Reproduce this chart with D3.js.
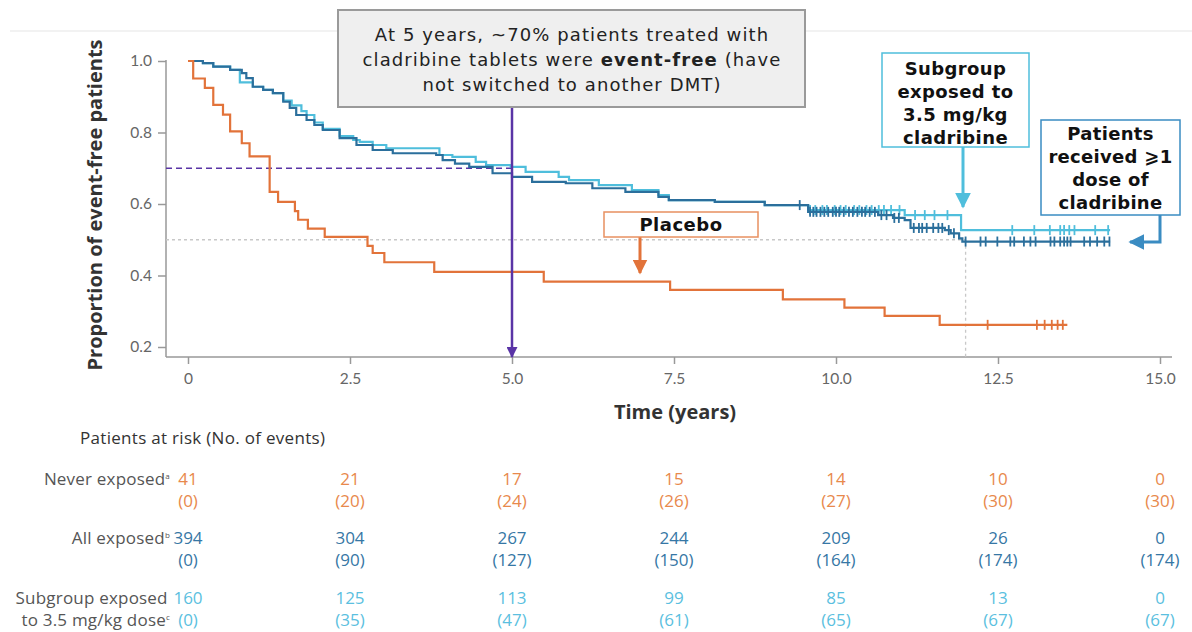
<html>
<head>
<meta charset="utf-8">
<title>Event-free patients</title>
<style>
  body { margin: 0; background: #fff; }
  .tick text { font-family: Lato, sans-serif; font-size: 15.5px; fill: #666; }
  .tbl { font-family: "Open Sans", sans-serif; font-size: 17px; }
  .tbl.lab { font-size: 17px; }
  .box { font-family: "DejaVu Sans", sans-serif; }
</style>
</head>
<body>
<script src="https://d3js.org/d3.v7.min.js"></script>
<script>

// placebo / never exposed (time in years, proportion event-free)
var placeboTimes = [0, 0.08, 0.26, 0.39, 0.54, 0.65, 0.83, 0.95, 1.26, 1.39, 1.65, 1.70, 1.85, 2.11, 2.77, 2.85, 3.03, 3.80, 5.49, 7.44, 9.18, 10.13, 10.75, 11.60, 13.57];
var placeboSurv  = [1.0, 0.951, 0.925, 0.877, 0.850, 0.803, 0.770, 0.733, 0.634, 0.606, 0.580, 0.556, 0.531, 0.508, 0.483, 0.463, 0.437, 0.410, 0.383, 0.360, 0.333, 0.310, 0.287, 0.262, 0.262];
var placeboCensor = [12.34, 13.10, 13.22, 13.33, 13.42, 13.50];

// all exposed (>=1 dose)
var allTimes = [0, 0.23, 0.39, 0.65, 0.83, 0.90, 1.0, 1.16, 1.31, 1.47, 1.57, 1.67, 1.83, 1.95, 2.08, 2.34, 2.60, 2.85, 3.16, 3.83, 3.93, 4.12, 4.34, 4.70, 5.0, 5.31, 5.83, 6.24, 6.75, 7.26, 7.42, 8.13, 8.90, 9.57, 10.65, 10.88, 11.06, 11.15, 11.68, 11.77, 11.90, 11.95, 14.23];
var allSurv  = [1.0, 0.994, 0.984, 0.975, 0.966, 0.952, 0.928, 0.919, 0.910, 0.886, 0.869, 0.849, 0.835, 0.821, 0.807, 0.784, 0.765, 0.751, 0.742, 0.737, 0.723, 0.713, 0.704, 0.686, 0.676, 0.662, 0.658, 0.644, 0.634, 0.620, 0.611, 0.606, 0.597, 0.578, 0.569, 0.561, 0.555, 0.533, 0.527, 0.518, 0.504, 0.495, 0.495];
var allCensor = [9.44, 9.60, 9.65, 9.70, 9.76, 9.82, 9.88, 9.95, 10.0, 10.05, 10.12, 10.20, 10.26, 10.33, 10.40, 10.45, 10.52, 10.60, 10.70, 10.78, 10.90, 10.97, 11.20, 11.28, 11.33, 11.40, 11.50, 11.58, 11.64, 11.74, 11.82, 12.0, 12.23, 12.31, 12.49, 12.69, 12.75, 12.90, 13.0, 13.08, 13.31, 13.37, 13.46, 13.52, 13.57, 13.62, 13.83, 13.92, 14.03, 14.14, 14.22];

// subgroup exposed to 3.5 mg/kg
var subTimes = [0, 0.23, 0.39, 0.65, 0.80, 1.0, 1.16, 1.31, 1.47, 1.60, 1.75, 1.83, 1.95, 2.08, 2.34, 2.55, 2.65, 2.85, 3.06, 3.88, 4.08, 4.44, 4.60, 4.98, 5.21, 5.72, 5.88, 6.34, 6.85, 7.26, 7.42, 8.13, 8.90, 9.57, 11.06, 11.93, 14.23];
var subSurv  = [1.0, 0.994, 0.984, 0.975, 0.940, 0.928, 0.919, 0.910, 0.889, 0.876, 0.860, 0.849, 0.828, 0.810, 0.790, 0.779, 0.774, 0.765, 0.756, 0.737, 0.732, 0.718, 0.709, 0.704, 0.690, 0.676, 0.667, 0.653, 0.639, 0.625, 0.611, 0.606, 0.597, 0.583, 0.569, 0.527, 0.527];
var subCensor = [9.60, 9.68, 9.79, 9.86, 9.98, 10.07, 10.15, 10.28, 10.36, 10.47, 10.55, 10.66, 10.74, 10.85, 10.98, 11.22, 11.37, 11.52, 11.72, 12.72, 13.06, 13.30, 13.46, 13.52, 13.60, 13.68, 14.0, 14.2];

// axis ticks
var xTicks = [0, 2.5, 5, 7.5, 10, 12.5, 15];
var yTicks = [0.2, 0.4, 0.6, 0.8, 1.0];

// patients at risk table
var riskTimes = [0, 2.5, 5, 7.5, 10, 12.5, 15];
var neverAtRisk = [41, 21, 17, 15, 14, 10, 0];
var neverEvents = [0, 20, 24, 26, 27, 30, 30];
var allAtRisk = [394, 304, 267, 244, 209, 26, 0];
var allEvents = [0, 90, 127, 150, 164, 174, 174];
var subAtRisk = [160, 125, 113, 99, 85, 13, 0];
var subEvents = [0, 35, 47, 61, 65, 67, 67];

var cOrange = "#e2733a", cDark = "#2b6f9c", cLight = "#4fbedc", cPurple = "#5a34a6", cMid = "#3a8cc2";

var svg = d3.select("body").append("svg")
    .attr("width", 1192)
    .attr("height", 632);

var x = d3.scaleLinear().domain([0, 15]).range([188, 1160]);
var y = d3.scaleLinear().domain([0.2, 1]).range([347, 61]);

// arrow heads
var defs = svg.append("defs");
function marker(id, color, size) {
  defs.append("marker")
    .attr("id", id)
    .attr("viewBox", "0 0 10 10")
    .attr("refX", 9).attr("refY", 5)
    .attr("markerWidth", size).attr("markerHeight", size)
    .attr("markerUnits", "userSpaceOnUse")
    .attr("orient", "auto")
    .append("path").attr("d", "M0,0 L10,5 L0,10 z").attr("fill", color);
}
marker("arPurple", cPurple, 11);
marker("arOrange", cOrange, 15);
marker("arLight", cLight, 16);
marker("arMid", cMid, 16);

// faint top rule
svg.append("line").attr("x1", 10).attr("x2", 1192).attr("y1", 31).attr("y2", 31)
  .attr("stroke", "#eeeeee").attr("stroke-width", 1.5);

// axes
svg.append("g").attr("transform", "translate(166,0)")
  .call(d3.axisLeft(y).tickValues(yTicks).tickSize(8).tickPadding(6).tickFormat(d3.format(".1f")));
svg.append("g").attr("transform", "translate(0,357)")
  .call(d3.axisBottom(x).tickValues(xTicks).tickSize(7).tickPadding(9)
    .tickFormat(function(d) { return d === 0 ? "0" : d3.format(".1f")(d); }));
svg.selectAll(".domain").remove();
svg.selectAll(".tick line").attr("stroke", "#999").attr("stroke-width", 1.5);
svg.append("line").attr("x1", 166).attr("x2", 166).attr("y1", y(1) - 1).attr("y2", 357)
  .attr("stroke", "#999").attr("stroke-width", 1.5);
svg.append("line").attr("x1", 166).attr("x2", 1172).attr("y1", 357).attr("y2", 357)
  .attr("stroke", "#999").attr("stroke-width", 1.5);

// axis titles
svg.append("text")
  .attr("transform", "translate(102,205) rotate(-90)")
  .attr("text-anchor", "middle")
  .style("font-family", "'Open Sans', sans-serif").style("font-size", "20px").style("font-weight", "bold")
  .attr("fill", "#333")
  .text("Proportion of event-free patients");
svg.append("text")
  .attr("x", 675).attr("y", 419)
  .attr("text-anchor", "middle")
  .style("font-family", "'Open Sans', sans-serif").style("font-size", "20px").style("font-weight", "bold")
  .attr("fill", "#333")
  .text("Time (years)");

// reference lines
svg.append("line").attr("x1", 166).attr("x2", x(12)).attr("y1", y(0.5)).attr("y2", y(0.5))
  .attr("stroke", "#c8c8c8").attr("stroke-width", 1.3).attr("stroke-dasharray", "3,3");
svg.append("line").attr("x1", x(12)).attr("x2", x(12)).attr("y1", y(0.5)).attr("y2", 357)
  .attr("stroke", "#c8c8c8").attr("stroke-width", 1.3).attr("stroke-dasharray", "3,3");
svg.append("line").attr("x1", 166).attr("x2", x(5)).attr("y1", y(0.7)).attr("y2", y(0.7))
  .attr("stroke", cPurple).attr("stroke-width", 1.3).attr("stroke-dasharray", "6,4");

// KM curves
var line = d3.line()
  .x(function(d) { return x(d[0]); })
  .y(function(d) { return y(d[1]); })
  .curve(d3.curveStepAfter);

function survAt(times, surv, t) {
  var i = d3.bisectRight(times, t) - 1;
  return surv[Math.max(0, i)];
}

function drawCurve(times, surv, censor, color) {
  svg.append("path")
    .datum(d3.zip(times, surv))
    .attr("fill", "none")
    .attr("stroke", color)
    .attr("stroke-width", 2.2)
    .attr("d", line);
  svg.append("g").selectAll("line")
    .data(censor)
    .enter().append("line")
    .attr("x1", function(d) { return x(d); })
    .attr("x2", function(d) { return x(d); })
    .attr("y1", function(d) { return y(survAt(times, surv, d)) - 5; })
    .attr("y2", function(d) { return y(survAt(times, surv, d)) + 5; })
    .attr("stroke", color)
    .attr("stroke-width", 1.8);
}
drawCurve(subTimes, subSurv, subCensor, cLight);
drawCurve(allTimes, allSurv, allCensor, cDark);
drawCurve(placeboTimes, placeboSurv, placeboCensor, cOrange);

// purple arrow at 5 years
svg.append("line").attr("x1", x(5)).attr("x2", x(5)).attr("y1", 107).attr("y2", 357)
  .attr("stroke", cPurple).attr("stroke-width", 2.5).attr("marker-end", "url(#arPurple)");

// main callout box
svg.append("rect").attr("x", 338).attr("y", 10).attr("width", 467).attr("height", 97)
  .attr("fill", "#efefef").attr("stroke", "#9a9a9a").attr("stroke-width", 2);
var callout = svg.append("text").attr("class", "box").attr("text-anchor", "middle")
  .style("font-size", "18px").style("letter-spacing", "1.1px").attr("fill", "#222");
callout.append("tspan").attr("x", 572).attr("y", 41).text("At 5 years, ~70% patients treated with");
var l2 = callout.append("tspan").attr("x", 572).attr("y", 66);
l2.append("tspan").text("cladribine tablets were ");
l2.append("tspan").style("font-weight", "bold").text("event-free");
l2.append("tspan").text(" (have");
callout.append("tspan").attr("x", 572).attr("y", 91).text("not switched to another DMT)");

// placebo label
svg.append("line").attr("x1", 640).attr("x2", 640).attr("y1", 237).attr("y2", 273)
  .attr("stroke", cOrange).attr("stroke-width", 3).attr("marker-end", "url(#arOrange)");
svg.append("rect").attr("x", 604).attr("y", 212).attr("width", 154).attr("height", 25)
  .attr("fill", "#fff").attr("stroke", "#e89060").attr("stroke-width", 1.5);
svg.append("text").attr("class", "box").attr("x", 681).attr("y", 231)
  .attr("text-anchor", "middle").style("font-size", "18px").style("font-weight", "bold")
  .style("letter-spacing", "0.5px").attr("fill", "#111").text("Placebo");

// subgroup label
svg.append("line").attr("x1", 963).attr("x2", 963).attr("y1", 147).attr("y2", 207)
  .attr("stroke", cLight).attr("stroke-width", 3).attr("marker-end", "url(#arLight)");
svg.append("rect").attr("x", 882).attr("y", 53).attr("width", 147).attr("height", 94)
  .attr("fill", "#fff").attr("stroke", cLight).attr("stroke-width", 1.5);
var subLab = svg.append("text").attr("class", "box").attr("text-anchor", "middle")
  .style("font-size", "18px").style("font-weight", "bold").style("letter-spacing", "0.4px").attr("fill", "#111");
["Subgroup", "exposed to", "3.5 mg/kg", "cladribine"].forEach(function(s, i) {
  subLab.append("tspan").attr("x", 955.5).attr("y", 75 + i * 23).text(s);
});

// all exposed label
svg.append("path").attr("d", "M1160,215 L1160,242 L1130,242")
  .attr("fill", "none").attr("stroke", cMid).attr("stroke-width", 3).attr("marker-end", "url(#arMid)");
svg.append("rect").attr("x", 1041).attr("y", 120).attr("width", 139).attr("height", 95)
  .attr("fill", "#fff").attr("stroke", cMid).attr("stroke-width", 1.5);
var allLab = svg.append("text").attr("class", "box").attr("text-anchor", "middle")
  .style("font-size", "18px").style("font-weight", "bold").style("letter-spacing", "0.3px").attr("fill", "#111");
["Patients", "received \u2A7E1", "dose of", "cladribine"].forEach(function(s, i) {
  allLab.append("tspan").attr("x", 1110.5).attr("y", 140 + i * 23).text(s);
});

// patients at risk table
svg.append("text").attr("class", "tbl lab").attr("x", 80).attr("y", 444)
  .attr("fill", "#333").style("letter-spacing", "0.3px").text("Patients at risk (No. of events)");

var rows = [
  { label: ["Never exposed"], sup: "a", atRisk: neverAtRisk, events: neverEvents, color: "#e8894c", y: 485 },
  { label: ["All exposed"], sup: "b", atRisk: allAtRisk, events: allEvents, color: "#3677a5", y: 544 },
  { label: ["Subgroup exposed", "to 3.5 mg/kg dose"], sup: "c", atRisk: subAtRisk, events: subEvents, color: "#5bbfe0", y: 604 }
];

rows.forEach(function(r) {
  var t = svg.append("text").attr("class", "tbl lab").attr("text-anchor", "end")
    .attr("fill", "#555").style("letter-spacing", "0.2px");
  r.label.forEach(function(s, i) {
    var ln = t.append("tspan").attr("x", 170).attr("y", r.y + i * 22);
    ln.append("tspan").text(s);
    if (i === r.label.length - 1) {
      ln.append("tspan").attr("dy", -6).style("font-size", "8px").text(r.sup);
    } else {
      ln.append("tspan").style("font-size", "8px").text(" ");
    }
  });
  svg.append("g").selectAll("text")
    .data(riskTimes)
    .enter().append("text").attr("class", "tbl")
    .attr("x", function(d) { return x(d); })
    .attr("y", r.y)
    .attr("text-anchor", "middle")
    .attr("fill", r.color)
    .text(function(d, i) { return r.atRisk[i]; });
  svg.append("g").selectAll("text")
    .data(riskTimes)
    .enter().append("text").attr("class", "tbl")
    .attr("x", function(d) { return x(d); })
    .attr("y", r.y + 22)
    .attr("text-anchor", "middle")
    .attr("fill", r.color)
    .text(function(d, i) { return "(" + r.events[i] + ")"; });
});

</script>
</body>
</html>
